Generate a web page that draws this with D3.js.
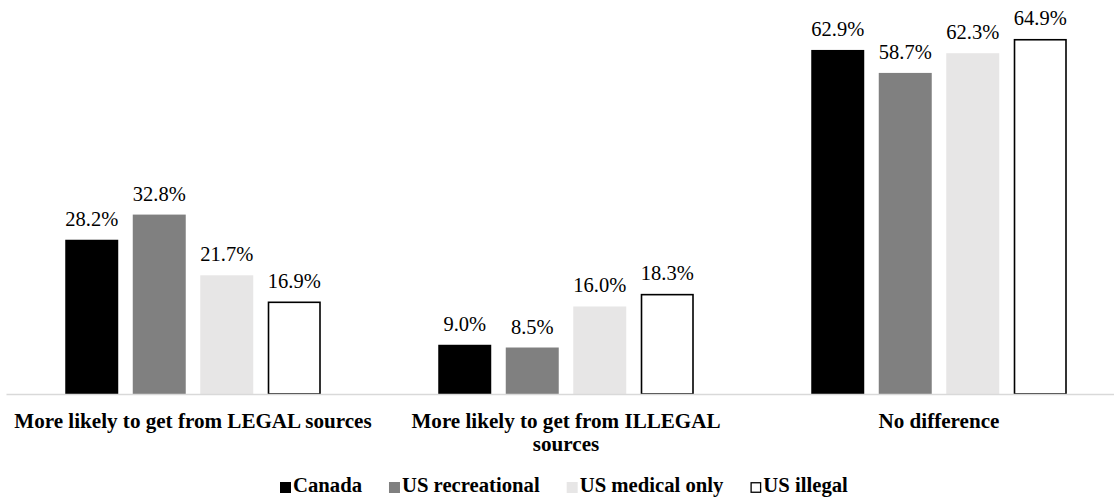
<!DOCTYPE html>
<html>
<head>
<meta charset="utf-8">
<script src="https://cdn.jsdelivr.net/npm/d3@7/dist/d3.min.js"></script>
<style>
  html, body { margin: 0; padding: 0; background: #fff; }
  svg { display: block; }
</style>
</head>
<body>
<svg id="chart" width="1114" height="497"></svg>
<script>
// Where respondents would get cannabis if it were legal, by jurisdiction
const categories = [
  ["More likely to get from LEGAL sources"],
  ["More likely to get from ILLEGAL", "sources"],
  ["No difference"]
];
const categoryKeys = ["legal", "illegal", "none"];
const seriesNames = ["Canada", "US recreational", "US medical only", "US illegal"];
const canada = [28.2, 9.0, 62.9];
const usRecreational = [32.8, 8.5, 58.7];
const usMedicalOnly = [21.7, 16.0, 62.3];
const usIllegal = [16.9, 18.3, 64.9];
const seriesValues = [canada, usRecreational, usMedicalOnly, usIllegal];

const fills = ["#000000", "#808080", "#e7e6e6", "#ffffff"];
const strokes = [null, null, null, "#000000"];
const serif = "'Liberation Serif'";

const svg = d3.select("#chart");
const baseY = 394;

const x0 = d3.scaleBand().domain(categoryKeys).range([6.5, 1125.5]).padding(0);
const groupWidth = 255.5;
const x1 = d3.scaleBand().domain(seriesNames).range([0, groupWidth]).paddingInner(0.215).paddingOuter(0);
const groupOffset = (x0.bandwidth() - groupWidth) / 2;
const y = d3.scaleLinear().domain([0, 10]).range([baseY, baseY - 54.7]);

// bars and value labels
const rows = [];
categoryKeys.forEach((c, ci) => {
  seriesNames.forEach((s, si) => {
    rows.push({ cat: c, series: s, si, value: seriesValues[si][ci] });
  });
});

const bars = svg.append("g");
bars.selectAll("rect")
  .data(rows)
  .join("rect")
  .attr("x", d => x0(d.cat) + groupOffset + x1(d.series) + (strokes[d.si] ? 0.75 : 0))
  .attr("y", d => y(d.value) + (strokes[d.si] ? 0.75 : 0))
  .attr("width", d => x1.bandwidth() - (strokes[d.si] ? 1.5 : 0))
  .attr("height", d => baseY - y(d.value) - (strokes[d.si] ? 0.75 : 0))
  .attr("fill", d => fills[d.si])
  .attr("stroke", d => strokes[d.si] || "none")
  .attr("stroke-width", 1.6);

bars.selectAll("text")
  .data(rows)
  .join("text")
  .attr("x", d => x0(d.cat) + groupOffset + x1(d.series) + x1.bandwidth() / 2)
  .attr("y", d => y(d.value) - 14)
  .attr("text-anchor", "middle")
  .style("font-family", serif)
  .style("font-size", "20.5px")
  .attr("fill", "#000")
  .text(d => d.value.toFixed(1) + "%");

// category axis line
svg.append("line")
  .attr("x1", x0.range()[0]).attr("x2", x0.range()[1])
  .attr("y1", baseY + 0.5).attr("y2", baseY + 0.5)
  .attr("stroke", "#d9d9d9").attr("stroke-width", 1.5);

// category labels
const catLabels = svg.append("g");
categoryKeys.forEach((c, ci) => {
  const t = catLabels.append("text")
    .attr("text-anchor", "middle")
    .style("font-family", serif)
    .style("font-size", "21.1px")
    .style("font-weight", "bold")
    .attr("fill", "#000");
  categories[ci].forEach((line, li) => {
    t.append("tspan")
      .attr("x", x0(c) + x0.bandwidth() / 2)
      .attr("y", 428 + li * 23)
      .text(line);
  });
});

// legend
const legend = svg.append("g");
let lx = 280;
seriesNames.forEach((s, si) => {
  legend.append("rect")
    .attr("x", lx + (strokes[si] ? 0.75 : 0))
    .attr("y", 482 + (strokes[si] ? 0.75 : 0))
    .attr("width", 11 - (strokes[si] ? 1.5 : 0))
    .attr("height", 11 - (strokes[si] ? 1.5 : 0))
    .attr("fill", fills[si])
    .attr("stroke", strokes[si] || "none")
    .attr("stroke-width", 1.3);
  const t = legend.append("text")
    .attr("x", lx + 13)
    .attr("y", 492)
    .style("font-family", serif)
    .style("font-size", "20.7px")
    .style("font-weight", "bold")
    .attr("fill", "#000")
    .text(s);
  lx += 13 + t.node().getComputedTextLength() + 27;
});
</script>
</body>
</html>
